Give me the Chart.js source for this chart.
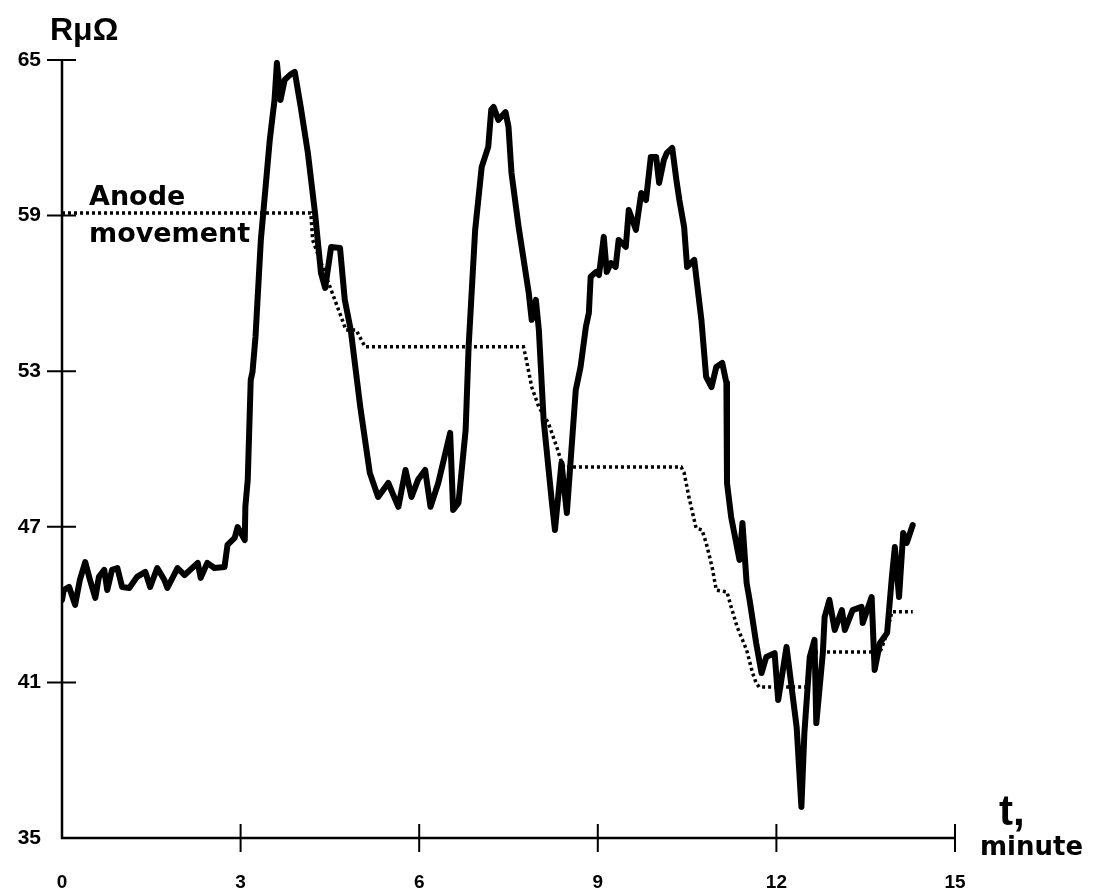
<!DOCTYPE html>
<html>
<head>
<meta charset="utf-8">
<script src="https://cdn.jsdelivr.net/npm/chart.js@4"></script>
<style>
html, body { margin: 0; background: #fff; }
#wrap { width: 1096px; height: 896px; }
</style>
</head>
<body>
<div id="wrap"><canvas id="chart" width="1096" height="896"></canvas></div>
<script>
// resistance trace (minutes, micro-ohm)
var timeMin = [0,0.03,0.12,0.22,0.30,0.39,0.47,0.56,0.62,0.71,0.76,0.84,0.93,1.01,1.13,1.26,1.40,1.48,1.60,1.72,
	1.77,1.94,2.06,2.28,2.33,2.44,2.56,2.73,2.78,2.90,2.95,3.07,3.08,3.12,
	3.17,3.20,3.25,3.34,3.40,3.49,3.57,3.61,3.67,3.74,3.83,3.91,4.01,4.13,4.25,4.35,4.42,4.52,4.67,4.75,4.85,
	5.01,5.17,5.31,5.48,5.65,5.77,5.87,5.98,6.10,6.19,6.32,6.52,6.57,6.66,6.78,6.83,6.94,7.05,7.16,7.21,
	7.25,7.33,7.45,7.50,7.55,7.67,7.84,7.89,7.96,8.01,8.09,8.23,8.28,
	8.39,8.48,8.63,8.71,8.80,8.85,8.88,8.97,9.02,9.10,9.15,9.22,9.30,9.35,9.47,9.52,9.64,9.73,9.81,9.89,
	9.98,10.03,10.11,10.16,10.25,10.32,10.37,10.45,10.50,10.62,10.74,10.82,10.91,10.99,11.09,11.16,11.17,11.24,11.38,11.43,
	11.50,11.55,
	11.66,11.75,11.83,11.97,12.03,12.17,12.34,12.42,12.47,12.56,12.64,12.67,12.78,12.81,12.89,12.98,13.10,13.15,13.28,13.43,
	13.45,13.60,13.65,13.74,13.86,13.94,13.99,14.06,14.13,14.19,14.29];
var resistance = [44.18,44.56,44.68,43.99,44.95,45.64,44.95,44.26,45.07,45.34,44.56,45.34,45.41,44.68,44.64,45.07,45.26,44.68,45.41,44.95,
	44.64,45.41,45.14,45.61,45.03,45.61,45.41,45.45,46.30,46.57,46.99,46.49,47.77,48.81,
	52.66,52.97,54.32,58.06,59.60,61.92,63.46,64.89,63.46,64.23,64.43,64.54,63.19,61.42,59.10,56.79,56.21,57.79,57.75,55.75,54.59,
	51.62,49.08,48.15,48.69,47.77,49.19,48.15,48.81,49.19,47.77,48.69,50.62,47.65,47.92,50.73,53.94,58.45,60.88,61.65,63.08,
	63.19,62.69,62.99,62.42,60.65,58.56,56.02,54.98,55.75,54.59,51.12,47.92,46.88,
	49.46,47.53,52.28,53.16,54.71,55.25,56.64,56.83,56.71,58.18,56.83,57.17,57.02,58.06,57.79,59.22,58.45,59.87,59.60,61.26,
	61.26,60.26,61.15,61.42,61.61,60.38,59.60,58.56,57.02,57.29,54.98,52.78,52.39,53.16,53.32,52.55,48.69,47.38,45.72,47.15,
	44.83,44.18,
	42.52,41.36,41.98,42.13,40.32,42.37,39.28,36.20,39.05,41.98,42.64,39.43,42.13,43.52,44.18,43.02,43.79,43.02,43.79,43.91,
	43.29,44.29,41.48,42.52,42.91,45.07,46.22,44.29,46.76,46.38,47.07];

// anode movement (dotted)
var anodeTime = [0,4.18,4.21,4.77,4.94,5.09,7.75,7.79,7.89,8.01,8.17,8.31,8.39,8.43,10.40,10.45,10.53,10.65,10.75,10.82,
	10.92,10.99,11.17,11.24,11.34,11.50,11.60,11.66,11.71,12.52,12.59,13.74,13.82,13.94,14.29];
var anodeRes = [59.10,59.10,58.06,54.59,54.59,53.94,53.94,53.55,52.39,51.62,51.00,50.08,49.50,49.31,49.31,49.08,48.15,46.96,46.88,46.38,
	45.45,44.56,44.49,43.91,43.14,42.25,41.36,40.98,40.82,40.82,42.17,42.17,42.64,43.72,43.72];

var xTicks = [0, 3, 6, 9, 12, 15];
var yTicks = [35, 41, 47, 53, 59, 65];

function toPoints(xs, ys) {
	var pts = [];
	for (var i in xs) {
		pts.push({ x: xs[i], y: ys[i] });
	}
	return pts;
}

var decor = {
	id: 'decor',
	afterDraw: function(chart) {
		var ctx = chart.ctx;
		var a = chart.chartArea;
		var xs = chart.scales.x;
		var ys = chart.scales.y;
		ctx.save();
		ctx.strokeStyle = '#000';
		ctx.lineWidth = 2.5;
		ctx.beginPath();
		ctx.moveTo(a.left, a.top);
		ctx.lineTo(a.left, a.bottom);
		ctx.lineTo(xs.getPixelForValue(15), a.bottom);
		ctx.stroke();

		// cross ticks
		ctx.lineWidth = 2;
		ctx.beginPath();
		for (var i = 1; i < yTicks.length; i++) {
			var py = ys.getPixelForValue(yTicks[i]);
			ctx.moveTo(a.left - 15, py);
			ctx.lineTo(a.left + 14, py);
		}
		for (var j = 1; j < xTicks.length; j++) {
			var px = xs.getPixelForValue(xTicks[j]);
			ctx.moveTo(px, a.bottom - 14);
			ctx.lineTo(px, a.bottom + 14);
		}
		ctx.stroke();

		// texts
		ctx.fillStyle = '#000';
		ctx.textAlign = 'left';
		ctx.textBaseline = 'alphabetic';
		ctx.font = 'bold 32px "Liberation Sans"';
		ctx.fillText('RμΩ', 50, 40);
		ctx.font = 'bold 42px "Liberation Sans"';
		ctx.fillText('t,', 999, 825);
		ctx.textBaseline = 'middle';
		ctx.font = 'bold 27px "DejaVu Sans"';
		ctx.fillText('Anode', 89, 198);
		ctx.fillText('movement', 89, 235);
		ctx.font = 'bold 26px "DejaVu Sans"';
		ctx.fillText('minute', 980, 848);
		ctx.restore();
	}
};

var ctx = document.getElementById('chart');
var chart = new Chart(ctx, {
	type: 'scatter',
	data: {
		datasets: [
			{
				label: 'Anode movement',
				data: toPoints(anodeTime, anodeRes),
				showLine: true,
				borderColor: '#000',
				borderWidth: 3.5,
				borderDash: [3, 3],
				pointRadius: 0,
				tension: 0
			},
			{
				label: 'R',
				data: toPoints(timeMin, resistance),
				showLine: true,
				borderColor: '#000',
				borderWidth: 6,
				borderJoinStyle: 'round',
				borderCapStyle: 'round',
				pointRadius: 0,
				tension: 0
			}
		]
	},
	options: {
		responsive: false,
		animation: false,
		layout: { padding: { left: 0, right: 141, top: 60, bottom: 0 } },
		plugins: { legend: { display: false }, tooltip: { enabled: false } },
		scales: {
			x: {
				type: 'linear', min: 0, max: 15,
				afterBuildTicks: function(s) { s.ticks = xTicks.map(function(v) { return { value: v }; }); },
				afterFit: function(s) { s.height = 58; },
				grid: { display: false, drawTicks: false },
				border: { display: false },
				ticks: { color: '#000', padding: 33, font: { family: 'Liberation Sans', size: 19, weight: 'bold' } }
			},
			y: {
				type: 'linear', min: 35, max: 65,
				afterBuildTicks: function(s) { s.ticks = yTicks.map(function(v) { return { value: v }; }); },
				afterFit: function(s) { s.width = 62; },
				grid: { display: false, drawTicks: false },
				border: { display: false },
				ticks: { color: '#000', padding: 21, font: { family: 'Liberation Sans', size: 21, weight: 'bold' } }
			}
		}
	},
	plugins: [decor]
});
</script>
</body>
</html>
